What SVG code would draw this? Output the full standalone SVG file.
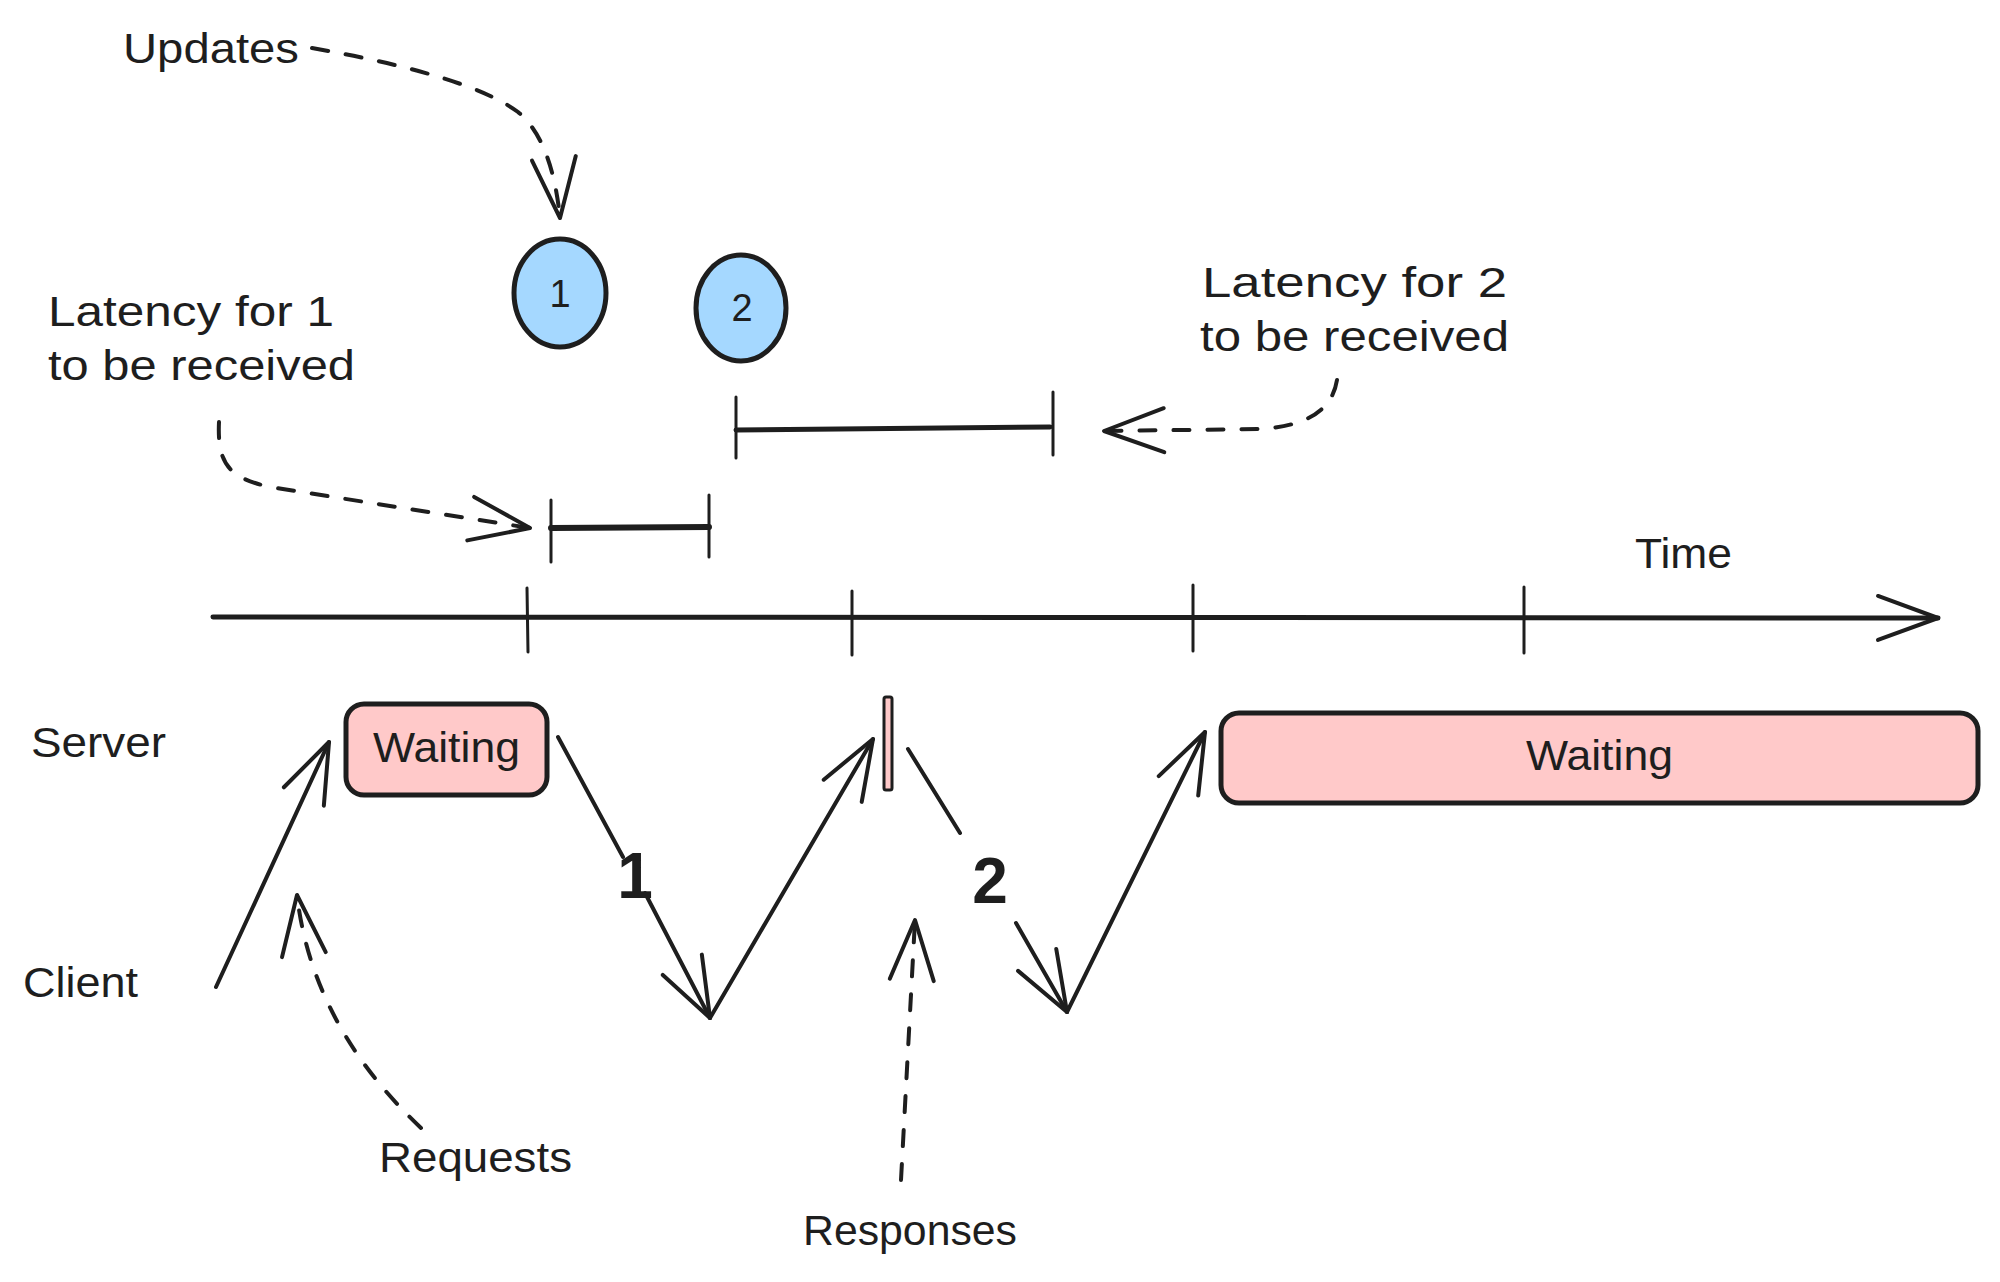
<svg xmlns="http://www.w3.org/2000/svg" width="2000" height="1282" viewBox="0 0 2000 1282">
<style>
.t{font-family:"Liberation Sans",Arial,sans-serif;font-size:42px;fill:#1e1e1e}
.num{font-family:"Liberation Sans",Arial,sans-serif;font-size:38px;fill:#1e1e1e;text-anchor:middle}
.big{font-family:"Liberation Sans",Arial,sans-serif;font-size:64px;font-weight:bold;fill:#1e1e1e;text-anchor:middle}
.ln{fill:none;stroke:#1e1e1e;stroke-width:4;stroke-linecap:round;stroke-linejoin:round}
.dash{fill:none;stroke:#1e1e1e;stroke-width:4;stroke-linecap:round;stroke-dasharray:16 18}
.axis{fill:none;stroke:#1e1e1e;stroke-width:5;stroke-linecap:round}
.tick{fill:none;stroke:#1e1e1e;stroke-width:3;stroke-linecap:round}
.blue{fill:#a5d8ff;stroke:#1e1e1e;stroke-width:5}
.pink{fill:#ffc9c9;stroke:#1e1e1e;stroke-width:5}
</style>
<defs>
<marker id="ah" markerUnits="userSpaceOnUse" orient="auto" refX="0" refY="0" markerWidth="140" markerHeight="140" viewBox="-70 -70 140 140" overflow="visible">
<path d="M -60 -22 L 0 0 L -60 22" fill="none" stroke="#1e1e1e" stroke-width="4" stroke-linecap="round" stroke-linejoin="round"/>
</marker>
</defs>
<rect x="0" y="0" width="2000" height="1282" fill="#ffffff"/>

<g id="time-axis">
<path class="axis" d="M 213 617 L 1938 618" marker-end="url(#ah)"/>
<path class="tick" d="M 527 588 L 528 652"/>
<path class="tick" d="M 852 591 L 852 655"/>
<path class="tick" d="M 1193 585 L 1193 651"/>
<path class="tick" d="M 1524 587 L 1524 653"/>
<text class="t" x="1635" y="568" textLength="97" lengthAdjust="spacingAndGlyphs">Time</text>
</g>

<g id="update-1">
<ellipse class="blue" cx="560" cy="293" rx="46" ry="54"/>
<text class="num" x="560" y="307">1</text>
</g>
<g id="update-2">
<ellipse class="blue" cx="741" cy="308" rx="45" ry="53"/>
<text class="num" x="742" y="321">2</text>
</g>

<g id="server-waiting-1">
<rect class="pink" x="346" y="704" width="201" height="91" rx="18"/>
<text class="t" x="373" y="762" textLength="147" lengthAdjust="spacingAndGlyphs">Waiting</text>
</g>
<g id="server-blip">
<rect x="884" y="697" width="8" height="93" rx="2" fill="#ffc9c9" stroke="#1e1e1e" stroke-width="3"/>
</g>
<g id="server-waiting-2">
<rect class="pink" x="1221" y="713" width="757" height="90" rx="18"/>
<text class="t" x="1526" y="770" textLength="147" lengthAdjust="spacingAndGlyphs">Waiting</text>
</g>

<g id="latency-1-bracket">
<path class="tick" d="M 551 500 L 551 562"/>
<path class="tick" d="M 709 495 L 709 557"/>
<path class="axis" d="M 551 528 L 709 527" style="stroke-width:6"/>
</g>
<g id="latency-2-bracket">
<path class="tick" d="M 736 397 L 736 458"/>
<path class="tick" d="M 1053 392 L 1053 455"/>
<path class="axis" d="M 736 430 L 1050 427"/>
</g>

<g id="labels">
<text class="t" x="123" y="63" textLength="176" lengthAdjust="spacingAndGlyphs">Updates</text>
<text class="t" x="48" y="326" textLength="286" lengthAdjust="spacingAndGlyphs">Latency for 1</text>
<text class="t" x="48" y="380" textLength="307" lengthAdjust="spacingAndGlyphs">to be received</text>
<text class="t" x="1202" y="297" textLength="305" lengthAdjust="spacingAndGlyphs">Latency for 2</text>
<text class="t" x="1200" y="351" textLength="309" lengthAdjust="spacingAndGlyphs">to be received</text>
<text class="t" x="31" y="757" textLength="135" lengthAdjust="spacingAndGlyphs">Server</text>
<text class="t" x="23" y="997" textLength="115" lengthAdjust="spacingAndGlyphs">Client</text>
<text class="t" x="379" y="1172" textLength="193" lengthAdjust="spacingAndGlyphs">Requests</text>
<text class="t" x="803" y="1245" textLength="214" lengthAdjust="spacingAndGlyphs">Responses</text>
</g>

<g id="connectors">
<path class="ln" d="M 216 987 L 329 742" marker-end="url(#ah)"/>
<path class="ln" d="M 558 737 L 623 857"/>
<path class="ln" d="M 645 893 L 710 1018" marker-end="url(#ah)"/>
<text class="big" x="635" y="898">1</text>
<path class="ln" d="M 710 1018 L 873 739" marker-end="url(#ah)"/>
<path class="ln" d="M 908 749 L 960 833"/>
<path class="ln" d="M 1016 923 L 1067 1012" marker-end="url(#ah)"/>
<text class="big" x="990" y="903">2</text>
<path class="ln" d="M 1067 1012 L 1205 732" marker-end="url(#ah)"/>

<path class="dash" d="M 312 48 Q 470 76 518 112 Q 552 140 560 218" marker-end="url(#ah)"/>
<path class="dash" d="M 219 422 C 217 465 230 478 270 487 L 530 528" marker-end="url(#ah)"/>
<path class="dash" d="M 1337 380 Q 1330 425 1260 429 L 1104 431" marker-end="url(#ah)"/>
<path class="dash" d="M 421 1128 Q 312 1025 297 895" marker-end="url(#ah)"/>
<path class="dash" d="M 901 1180 L 915 920" marker-end="url(#ah)"/>
</g>
</svg>
